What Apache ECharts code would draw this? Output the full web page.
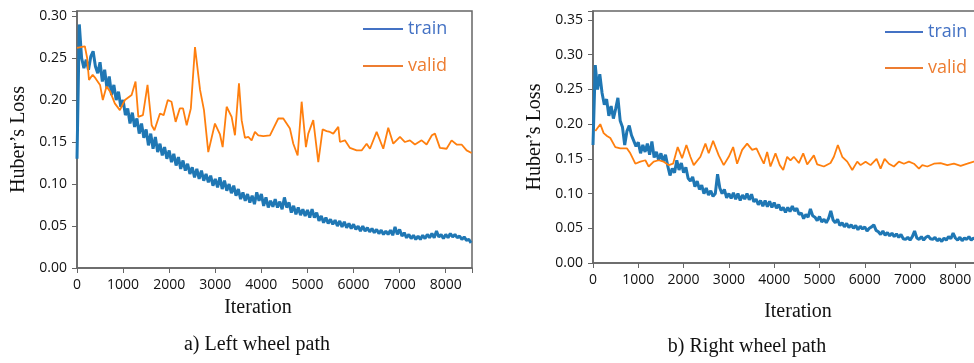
<!DOCTYPE html>
<html>
<head>
<meta charset="utf-8">
<script src="https://cdn.jsdelivr.net/npm/echarts@6/dist/echarts.min.js"></script>
<style>
  html, body { margin: 0; padding: 0; background: #fff; }
  #main { width: 974px; height: 363px; }
</style>
</head>
<body>
<div id="main"></div>
<script>
// train loss is logged every 50 iterations
let trainStep = 50

// a) left wheel path
let leftTrain = [
	0.13, 0.29, 0.25, 0.238, 0.248, 0.236, 0.252, 0.258, 0.24, 0.232,
	0.245, 0.222, 0.236, 0.214, 0.228, 0.206, 0.218, 0.2, 0.21, 0.192,
	0.2, 0.182, 0.19, 0.172, 0.185, 0.168, 0.178, 0.16, 0.172, 0.155,
	0.165, 0.146, 0.16, 0.142, 0.156, 0.138, 0.148, 0.134, 0.144, 0.13,
	0.14, 0.126, 0.136, 0.122, 0.132, 0.118, 0.128, 0.116, 0.124, 0.112,
	0.12, 0.108, 0.118, 0.106, 0.116, 0.104, 0.112, 0.102, 0.11, 0.098,
	0.106, 0.096, 0.108, 0.094, 0.104, 0.092, 0.1, 0.089, 0.098, 0.086,
	0.094, 0.082, 0.09, 0.08, 0.088, 0.078, 0.086, 0.076, 0.09, 0.08,
	0.088, 0.074, 0.084, 0.072, 0.08, 0.073, 0.082, 0.072, 0.079, 0.07,
	0.084, 0.072, 0.078, 0.066, 0.074, 0.064, 0.072, 0.063, 0.07, 0.062,
	0.069, 0.06, 0.07, 0.06, 0.066, 0.056, 0.062, 0.054, 0.06, 0.053,
	0.058, 0.052, 0.057, 0.05, 0.056, 0.049, 0.055, 0.048, 0.053, 0.047,
	0.052, 0.046, 0.05, 0.044, 0.05, 0.044, 0.048, 0.043, 0.047, 0.042,
	0.046, 0.041, 0.045, 0.04, 0.044, 0.04, 0.045, 0.039, 0.049, 0.04,
	0.046, 0.038, 0.042, 0.036, 0.04, 0.035, 0.039, 0.034, 0.038, 0.034,
	0.039, 0.035, 0.04, 0.036, 0.041, 0.036, 0.044, 0.037, 0.04, 0.035,
	0.04, 0.036, 0.041, 0.037, 0.04, 0.036, 0.038, 0.034, 0.037, 0.033,
	0.034, 0.03
]
let leftValidIter = [
	0, 80, 170, 220, 260, 340, 400, 500, 560, 640, 720, 820, 930, 1040, 1185, 1270, 1330, 1430, 1530, 1620,
	1680, 1800, 1880, 1970, 2050, 2140, 2230, 2300, 2380, 2470, 2560, 2670, 2755, 2848, 2993, 3102, 3160, 3247, 3355, 3427,
	3514, 3572, 3644, 3716, 3789, 3861, 3933, 4042, 4187, 4259, 4367, 4476, 4548, 4620, 4693, 4787, 4874, 4967, 5018, 5126,
	5235, 5329, 5416, 5488, 5560, 5669, 5705, 5813, 5922, 6067, 6175, 6284, 6356, 6501, 6645, 6753, 6862, 7007, 7115, 7223,
	7332, 7477, 7585, 7700, 7766, 7874, 8018, 8127, 8236, 8344, 8453, 8561
]
let leftValid = [
	0.262, 0.263, 0.264, 0.25, 0.224, 0.23, 0.226, 0.218, 0.2, 0.216, 0.21, 0.196, 0.188, 0.2, 0.206, 0.222, 0.18, 0.182, 0.218, 0.17,
	0.164, 0.184, 0.182, 0.2, 0.198, 0.174, 0.19, 0.19, 0.17, 0.19, 0.263, 0.212, 0.188, 0.138, 0.172, 0.159, 0.144, 0.192, 0.18, 0.158,
	0.22, 0.176, 0.155, 0.156, 0.152, 0.162, 0.158, 0.157, 0.158, 0.166, 0.178, 0.178, 0.172, 0.166, 0.148, 0.134, 0.198, 0.144, 0.16, 0.176,
	0.126, 0.165, 0.163, 0.162, 0.16, 0.168, 0.15, 0.152, 0.143, 0.14, 0.14, 0.148, 0.142, 0.162, 0.142, 0.167, 0.148, 0.156, 0.15, 0.152,
	0.147, 0.152, 0.147, 0.158, 0.16, 0.143, 0.142, 0.152, 0.147, 0.147, 0.14, 0.137
]

// b) right wheel path
let rightTrain = [
	0.17, 0.285, 0.25, 0.272, 0.245, 0.228, 0.236, 0.212, 0.226, 0.208,
	0.222, 0.238, 0.205, 0.196, 0.17, 0.19, 0.198, 0.184, 0.176, 0.168,
	0.174, 0.158, 0.17, 0.16, 0.172, 0.156, 0.175, 0.152, 0.16, 0.148,
	0.158, 0.146, 0.156, 0.14, 0.126, 0.136, 0.13, 0.148, 0.134, 0.144,
	0.13, 0.138, 0.122, 0.118, 0.124, 0.11, 0.118, 0.106, 0.112, 0.1,
	0.108, 0.098, 0.104, 0.096, 0.1, 0.128, 0.108, 0.1, 0.106, 0.094,
	0.1, 0.093, 0.101, 0.092, 0.1, 0.09, 0.098, 0.092, 0.1, 0.091,
	0.099, 0.088, 0.092, 0.084, 0.09, 0.082, 0.09, 0.081, 0.089, 0.08,
	0.087, 0.079, 0.084, 0.076, 0.08, 0.073, 0.08, 0.074, 0.082, 0.075,
	0.079, 0.07, 0.072, 0.064, 0.07, 0.066, 0.078, 0.068, 0.066, 0.061,
	0.067, 0.059, 0.063, 0.058, 0.064, 0.075, 0.062, 0.058, 0.063, 0.054,
	0.058, 0.052, 0.057, 0.051, 0.055, 0.05, 0.054, 0.048, 0.053, 0.049,
	0.052, 0.046, 0.05, 0.052, 0.055, 0.047, 0.045, 0.041, 0.046, 0.04,
	0.044, 0.039, 0.043, 0.038, 0.042, 0.037, 0.041, 0.035, 0.034, 0.037,
	0.033, 0.038, 0.046, 0.036, 0.034, 0.038, 0.033, 0.037, 0.039, 0.035,
	0.034, 0.037, 0.032, 0.035, 0.031, 0.036, 0.033, 0.038, 0.035, 0.043,
	0.036, 0.033, 0.037, 0.032, 0.036, 0.034, 0.038, 0.033, 0.036, 0.034,
	0.035
]
let rightValidIter = [
	51, 161, 235, 309, 382, 493, 603, 751, 824, 935, 1045, 1156, 1229, 1340, 1450, 1561, 1671, 1768, 1870, 1967,
	2062, 2150, 2224, 2371, 2482, 2555, 2652, 2776, 2886, 2997, 3094, 3182, 3293, 3403, 3514, 3609, 3697, 3771, 3845, 3918,
	4029, 4124, 4199, 4287, 4360, 4434, 4545, 4641, 4729, 4876, 4950, 5097, 5244, 5318, 5406, 5503, 5613, 5724, 5834, 5907,
	6018, 6128, 6261, 6349, 6438, 6533, 6643, 6754, 6864, 6975, 7085, 7196, 7270, 7381, 7527, 7675, 7823, 7969, 8117, 8265,
	8411, 8500
]
let rightValid = [
	0.19, 0.2, 0.187, 0.183, 0.18, 0.167, 0.165, 0.165, 0.158, 0.143, 0.146, 0.148, 0.139, 0.146, 0.148, 0.146, 0.141, 0.143, 0.167, 0.151,
	0.17, 0.153, 0.141, 0.153, 0.172, 0.158, 0.176, 0.155, 0.141, 0.153, 0.167, 0.143, 0.163, 0.172, 0.163, 0.165, 0.153, 0.143, 0.16, 0.139,
	0.158, 0.141, 0.134, 0.153, 0.148, 0.153, 0.144, 0.158, 0.142, 0.155, 0.142, 0.139, 0.144, 0.153, 0.17, 0.153, 0.146, 0.134, 0.146, 0.141,
	0.146, 0.141, 0.15, 0.136, 0.15, 0.143, 0.139, 0.146, 0.143, 0.146, 0.143, 0.136, 0.141, 0.139, 0.143, 0.144, 0.141, 0.143, 0.14, 0.143,
	0.146, 0.146
]

let frameColor = '#666'
let tickFont = 'Open Sans'
let serifFont = 'Liberation Serif'

function trainPairs(values) {
	return values.map(function(v, i) { return [i * trainStep, v] })
}

function zip(xs, ys) {
	return xs.map(function(x, i) { return [x, ys[i]] })
}

function makeXAxis(gridIndex, max) {
	return {
		type: 'value',
		gridIndex: gridIndex,
		min: 0,
		max: max,
		interval: 1000,
		axisLine: { show: true, lineStyle: { color: frameColor, width: 1.5 } },
		axisTick: { show: true, length: 5, lineStyle: { color: frameColor } },
		splitLine: { show: false },
		axisLabel: {
			margin: 10,
			color: '#111',
			fontFamily: tickFont,
			fontSize: 14,
			formatter: function(v) { return v % 1000 === 0 ? String(v) : '' }
		}
	}
}

function makeYAxis(gridIndex, max) {
	return {
		type: 'value',
		gridIndex: gridIndex,
		min: 0,
		max: max,
		interval: 0.05,
		name: 'Huber\u2019s Loss',
		nameLocation: 'middle',
		nameGap: 48,
		nameTextStyle: { fontFamily: serifFont, fontSize: 20, color: '#111' },
		axisLine: { show: true, lineStyle: { color: frameColor, width: 1.5 } },
		axisTick: { show: true, length: 5, lineStyle: { color: frameColor } },
		splitLine: { show: false },
		axisLabel: {
			margin: 10,
			color: '#111',
			fontFamily: tickFont,
			fontSize: 14,
			formatter: function(v) {
				return Math.abs(v * 20 - Math.round(v * 20)) < 1e-6 ? v.toFixed(2) : ''
			}
		}
	}
}

function makeLegend(left, top, width, gap) {
	return {
		left: left,
		top: top,
		orient: 'vertical',
		icon: 'rect',
		itemWidth: width,
		itemHeight: 2,
		itemGap: gap,
		textStyle: { fontFamily: tickFont, fontSize: 18, lineHeight: 20 },
		data: [
			{ name: 'train', itemStyle: { color: '#4472c4' }, textStyle: { color: '#4472c4' } },
			{ name: 'valid', itemStyle: { color: '#ed7d31' }, textStyle: { color: '#ed7d31' } }
		]
	}
}

function makeSeries(name, index, data, color, width) {
	return {
		name: name,
		type: 'line',
		xAxisIndex: index,
		yAxisIndex: index,
		data: data,
		showSymbol: false,
		symbol: 'none',
		lineStyle: { color: color, width: width },
		itemStyle: { color: color },
		z: name === 'train' ? 2 : 3
	}
}

function caption(text, x, y) {
	return {
		type: 'text',
		x: x,
		y: y,
		style: {
			text: text,
			fill: '#111',
			font: '20px "Liberation Serif"',
			align: 'center',
			verticalAlign: 'middle'
		}
	}
}

let myChart = echarts.init(document.getElementById('main'))

let chartOption = {
	animation: false,
	backgroundColor: '#fff',
	grid: [
		{ left: 77, top: 11, width: 395, height: 257, show: true, borderColor: frameColor, borderWidth: 1.5, containLabel: false, outerBoundsMode: 'none' },
		{ left: 593, top: 11, width: 385, height: 252, show: true, borderColor: frameColor, borderWidth: 1.5, containLabel: false, outerBoundsMode: 'none' }
	],
	xAxis: [makeXAxis(0, 8570), makeXAxis(1, 8500)],
	yAxis: [makeYAxis(0, 0.306), makeYAxis(1, 0.363)],
	legend: [makeLegend(358, 14, 40, 17), makeLegend(880, 17, 38, 16)],
	series: [
		makeSeries('train', 0, trainPairs(leftTrain), '#1f77b4', 3),
		makeSeries('valid', 0, zip(leftValidIter, leftValid), '#ff7f0e', 1.8),
		makeSeries('train', 1, trainPairs(rightTrain), '#1f77b4', 3),
		makeSeries('valid', 1, zip(rightValidIter, rightValid), '#ff7f0e', 1.8)
	],
	graphic: [
		caption('Iteration', 258, 308),
		caption('a) Left wheel path', 257, 345),
		caption('Iteration', 798, 312),
		caption('b) Right wheel path', 747, 347)
	]
}

chartOption && myChart.setOption(chartOption)
</script>
</body>
</html>
